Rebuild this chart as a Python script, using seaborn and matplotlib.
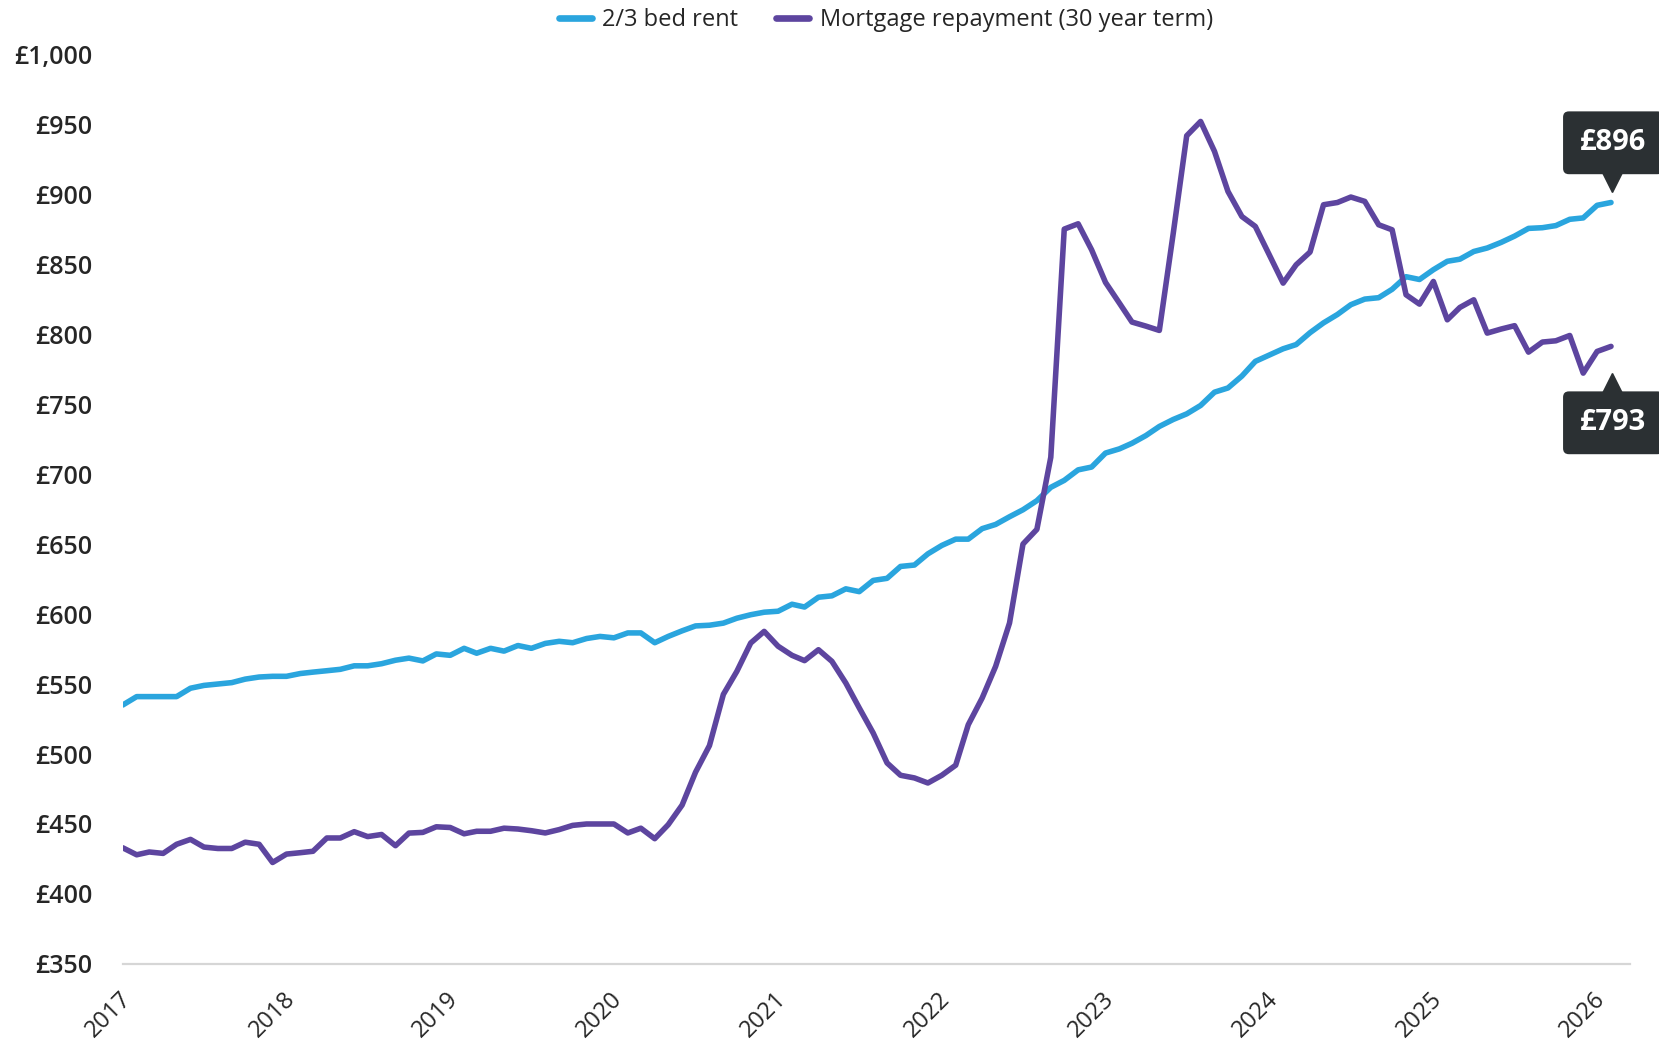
"""
Rent vs mortgage repayment - monthly line chart
"""

import pandas as pd
import numpy as np
import matplotlib
matplotlib.use('Agg')
import matplotlib.pyplot as plt
import matplotlib.dates as mdates
import matplotlib.transforms as mtransforms
import seaborn as sns

# ----------------------------------------------------------------------------------
# DATA (monthly, Jan 2017 - Feb 2026)
# ----------------------------------------------------------------------------------
start_month = '2017-01-01'

rent = [
    535, 541, 541, 541, 541, 547, 549, 550, 551, 553.5, 555, 555.5,
    555.5, 557.5, 558.5, 559.5, 560.5, 563, 563, 564.5, 567, 568.5, 566.5, 571.5,
    570.5, 575.5, 572, 575.5, 573.5, 577.5, 575.5, 579, 580.5, 579.5, 582.5, 584,
    583, 586.5, 586.5, 579.5, 584, 588, 591.5, 592, 593.5, 597, 599.5, 601.3,
    602, 607, 605, 612, 613, 618, 616, 624, 625.5, 634, 635, 643,
    649, 653.5, 653.5, 661, 664, 669.5, 674.5, 681, 690.5, 695.5, 703, 705,
    715, 718, 722, 727.5, 734, 739, 743, 749, 758.5, 761.5, 770, 780.5,
    785, 789.5, 792.5, 801, 808, 814, 821, 825, 826, 832, 841, 839,
    846, 852, 853.5, 859, 861.5, 865.5, 870, 875.5, 876, 877.5, 882, 883,
    892, 894,
]

mortgage = [
    433, 428, 430, 429, 435.5, 439, 433.5, 432.5, 432.5, 437, 435.5, 422.5,
    428.5, 429.5, 430.5, 440, 440, 444.5, 441, 442.5, 434.5, 443.5, 444, 448,
    447.5, 443, 444.8, 444.8, 447, 446.4, 445.2, 443.6, 446, 449, 450, 450,
    450, 443.6, 447, 439.5, 449.5, 463.5, 487, 506, 542.6, 559, 579.3, 587.6,
    577, 570.5, 566.7, 574.5, 566.2, 550.7, 532.9, 515, 493.6, 484.8, 482.9, 479.3,
    484.8, 492, 520.9, 540, 562.6, 593.6, 650, 660.5, 712, 875, 878.8, 860.2,
    836.9, 822.1, 808.6, 805.7, 802.6, 872, 941.7, 951.9, 930.5, 901.9, 884, 876.9,
    856.7, 836.4, 849.5, 858.6, 892.4, 894, 897.9, 894.8, 878.1, 874.5, 828.1, 821.4,
    837.6, 810.2, 819, 824.5, 800.7, 803.6, 806, 787.1, 794.3, 795.2, 799, 772.1,
    787.6, 791.2,
]

series_names = ['2/3 bed rent', 'Mortgage repayment (30 year term)']
series_colors = ['#2aa5de', '#5d459f']
end_labels = ['£896', '£793']
year_ticks = list(range(2017, 2027))
y_ticks = list(range(350, 1001, 50))

dates = pd.date_range(start_month, periods=len(rent), freq='MS')

df = pd.concat([
    pd.DataFrame({'date': dates, 'value': rent, 'series': series_names[0]}),
    pd.DataFrame({'date': dates, 'value': mortgage, 'series': series_names[1]}),
], ignore_index=True)

# ----------------------------------------------------------------------------------
# PLOT
# ----------------------------------------------------------------------------------
sns.set_style('white')
plt.rcParams['font.family'] = ['Open Sans', 'DejaVu Sans']

fig = plt.figure(figsize=(16.59, 10.41), dpi=100)
ax = fig.add_axes([0.074, 0.074, 0.9086, 0.874])

sns.lineplot(data=df, x='date', y='value', hue='series', hue_order=series_names,
             palette=series_colors, linewidth=4.0, ax=ax, legend=False)

# axes range
x0 = mdates.date2num(dates[0])
x1 = mdates.date2num(dates[-1]) + 1.4 * 30.44
ax.set_xlim(x0, x1)
ax.set_ylim(y_ticks[0], y_ticks[-1])

# y axis
ax.set_yticks(y_ticks)
ax.set_yticklabels([f'£{v:,.0f}' for v in y_ticks], fontsize=18,
                   fontweight='semibold', color='#262626')
ax.tick_params(axis='y', length=0, pad=22)

# x axis - rotated year labels, nudged a little right of each tick
ax.set_xticks([pd.Timestamp(f'{y}-01-01') for y in year_ticks])
ax.set_xticklabels([str(y) for y in year_ticks], fontsize=17, color='#262626',
                   rotation=45, ha='right', va='center', rotation_mode='anchor')
ax.tick_params(axis='x', length=0, pad=23)
nudge = mtransforms.ScaledTranslation(5 / 100, 0, fig.dpi_scale_trans)
for lbl in ax.get_xticklabels():
    lbl.set_transform(lbl.get_transform() + nudge)
ax.set_xlabel('')
ax.set_ylabel('')

for side in ['top', 'right', 'left']:
    ax.spines[side].set_visible(False)
ax.spines['bottom'].set_color('#d6d6d6')
ax.spines['bottom'].set_linewidth(1.6)
ax.grid(False)

# legend
handles = [plt.Line2D([], [], color=c, lw=4.8, solid_capstyle='round') for c in series_colors]
fig.legend(handles, series_names, loc='center', bbox_to_anchor=(0.534, 0.981), ncol=2,
           frameon=False, fontsize=17, handlelength=1.4, handletextpad=0.45,
           columnspacing=1.6, labelcolor='#262626')

# end-value callouts
last_x = mdates.date2num(dates[-1])
box_color = '#2b3033'
callouts = [
    (rent[-1], end_labels[0], 43, 14.5, 'v'),
    (mortgage[-1], end_labels[1], -55, -26, '^'),
]
for last_y, txt, text_dy, tri_dy, marker in callouts:
    ax.annotate(txt, xy=(last_x, last_y), xytext=(1.5, text_dy), textcoords='offset points',
                ha='center', va='center', fontsize=21, fontweight='bold', color='white',
                bbox=dict(boxstyle='round,pad=0.58,rounding_size=0.2', fc=box_color, ec='none'),
                annotation_clip=False, zorder=5)
    tri = mtransforms.offset_copy(ax.transData, fig=fig, x=0.5, y=tri_dy, units='points')
    ax.plot([last_x], [last_y], marker=marker, markersize=15, color=box_color,
            transform=tri, clip_on=False, zorder=5)

plt.savefig('out.png', dpi=100)
plt.close()
